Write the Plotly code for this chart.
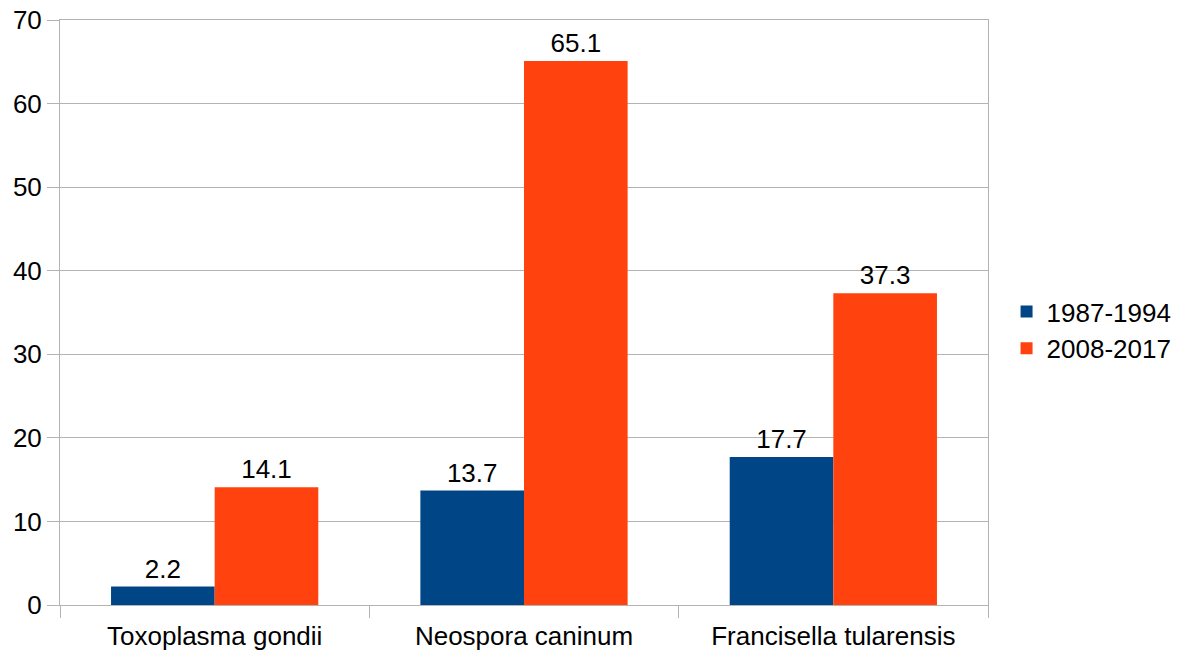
import plotly.graph_objects as go

categories = ["Toxoplasma gondii", "Neospora caninum", "Francisella tularensis"]
series_names = ["1987-1994", "2008-2017"]
values_1987_1994 = [2.2, 13.7, 17.7]
values_2008_2017 = [14.1, 65.1, 37.3]
colors = ["#004586", "#ff420e"]
y_ticks = [0, 10, 20, 30, 40, 50, 60, 70]

FONT = "Liberation Sans, Arial, sans-serif"

fig = go.Figure()
for name, vals, col in zip(series_names, [values_1987_1994, values_2008_2017], colors):
    fig.add_trace(go.Bar(
        x=categories, y=vals, name=name, marker=dict(color=col, line=dict(width=0)),
        text=[f"{v:.1f}" for v in vals], textposition="outside",
        textfont=dict(size=26, color="black", family=FONT),
        cliponaxis=False,
    ))

fig.update_layout(
    width=1177, height=655,
    margin=dict(l=60, r=189, t=20, b=50, autoexpand=False),
    paper_bgcolor="white", plot_bgcolor="white",
    font=dict(family=FONT, size=26, color="black"),
    barmode="group", bargap=0.33, bargroupgap=0,
    legend=dict(x=1.02, xanchor="left", y=0.47, yanchor="middle",
                font=dict(size=26, family=FONT), tracegroupgap=0),
    showlegend=True,
)
fig.update_xaxes(
    automargin=False,
    showline=True, linecolor="#b3b3b3", linewidth=1, mirror=True,
    ticks="outside", tickson="boundaries", ticklen=12, tickcolor="#b3b3b3",
    ticklabelstandoff=8,
    tickfont=dict(size=26, family=FONT, color="black"), showgrid=False,
)
fig.update_yaxes(
    automargin=False,
    range=[0, 70], tickvals=y_ticks, showgrid=True, gridcolor="#b3b3b3",
    showline=True, linecolor="#b3b3b3", linewidth=1, mirror=True,
    ticks="outside", ticklen=12, tickcolor="#b3b3b3",
    tickfont=dict(size=26, family=FONT, color="black"), zeroline=False,
)

fig.write_html("out.html")
